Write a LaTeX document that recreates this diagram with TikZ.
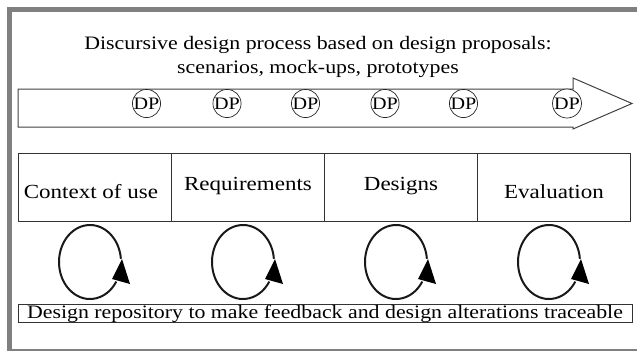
\documentclass[tikz,border=0pt]{standalone}
\usepackage{fontspec}
\setmainfont{Liberation Serif}[FakeStretch=1.15]
\begin{document}
\begin{tikzpicture}[x=1pt,y=-1pt,
  frameline/.style={draw=black!50},
  stagebox/.style={draw=black!80,line width=0.9pt,minimum width=153pt,minimum height=68pt,anchor=north west,inner sep=0pt},
  stagetext/.style={font=\fontsize{20}{22}\selectfont},
  dpnode/.style={circle,draw=black!85,line width=0.7pt,minimum size=27pt,inner sep=0pt,font=\fontsize{17.5}{17.5}\selectfont},
  loopline/.style={line width=2pt,black!90},
]
\useasboundingbox (0,0) rectangle (637,354);
% outer frame
\draw[frameline,line width=5pt] (637,9.5) -- (9.5,9.5) -- (9.5,351);
\draw[frameline,line width=1.5pt] (7,350) -- (637,350);
% title
\node[align=center,font=\fontsize{19}{24}\selectfont] (title) at (318,57) {Discursive design process based on design proposals:\\scenarios, mock-ups, prototypes};
% big arrow
\draw[black!75,line width=1pt] (18,89) -- (573,89) -- (573,78) -- (632,103.5) -- (573,129) -- (573,127) -- (18,127) -- cycle;
% DP circles
\foreach \n/\x in {1/146.5,2/227,3/305.5,4/385,5/463.5}{
  \node[dpnode,fill=white] (dp\n) at (\x,103.5) {DP};
}
\node[dpnode,fill=white,minimum size=29pt] (dp6) at (567,103.5) {DP};
% stage boxes
\node[stagebox] (ctx) at (18,153) {};
\node[stagebox] (req) at (171,153) {};
\node[stagebox] (des) at (324,153) {};
\node[stagebox] (eva) at (477,153) {};
\node[stagetext] (ctxt) at ([xshift=-4pt,yshift=-4pt]ctx.center) {Context of use};
\node[stagetext] (reqt) at ([yshift=1pt]req.center) {Requirements};
\node[stagetext] (dest) at ([yshift=1pt]des.center) {Designs};
\node[stagetext] (evat) at ([yshift=-4pt]eva.center) {Evaluation};
% loops
\foreach \cx in {90,243,396,549}{
  \draw[loopline] ({\cx+31*cos(-5)},{262+37*sin(-5)}) arc[start angle=-5,end angle=-328,x radius=31,y radius=37];
  \fill[black] (\cx+32,259) -- (\cx+22,279) -- (\cx+40,284) -- cycle;
}
% repository
\node[draw=black!80,line width=0.9pt,minimum width=614pt,minimum height=17pt,inner sep=0pt,font=\fontsize{19}{19}\selectfont] (repo) at (325,313.5) {Design repository to make feedback and design alterations traceable};
\end{tikzpicture}
\end{document}
